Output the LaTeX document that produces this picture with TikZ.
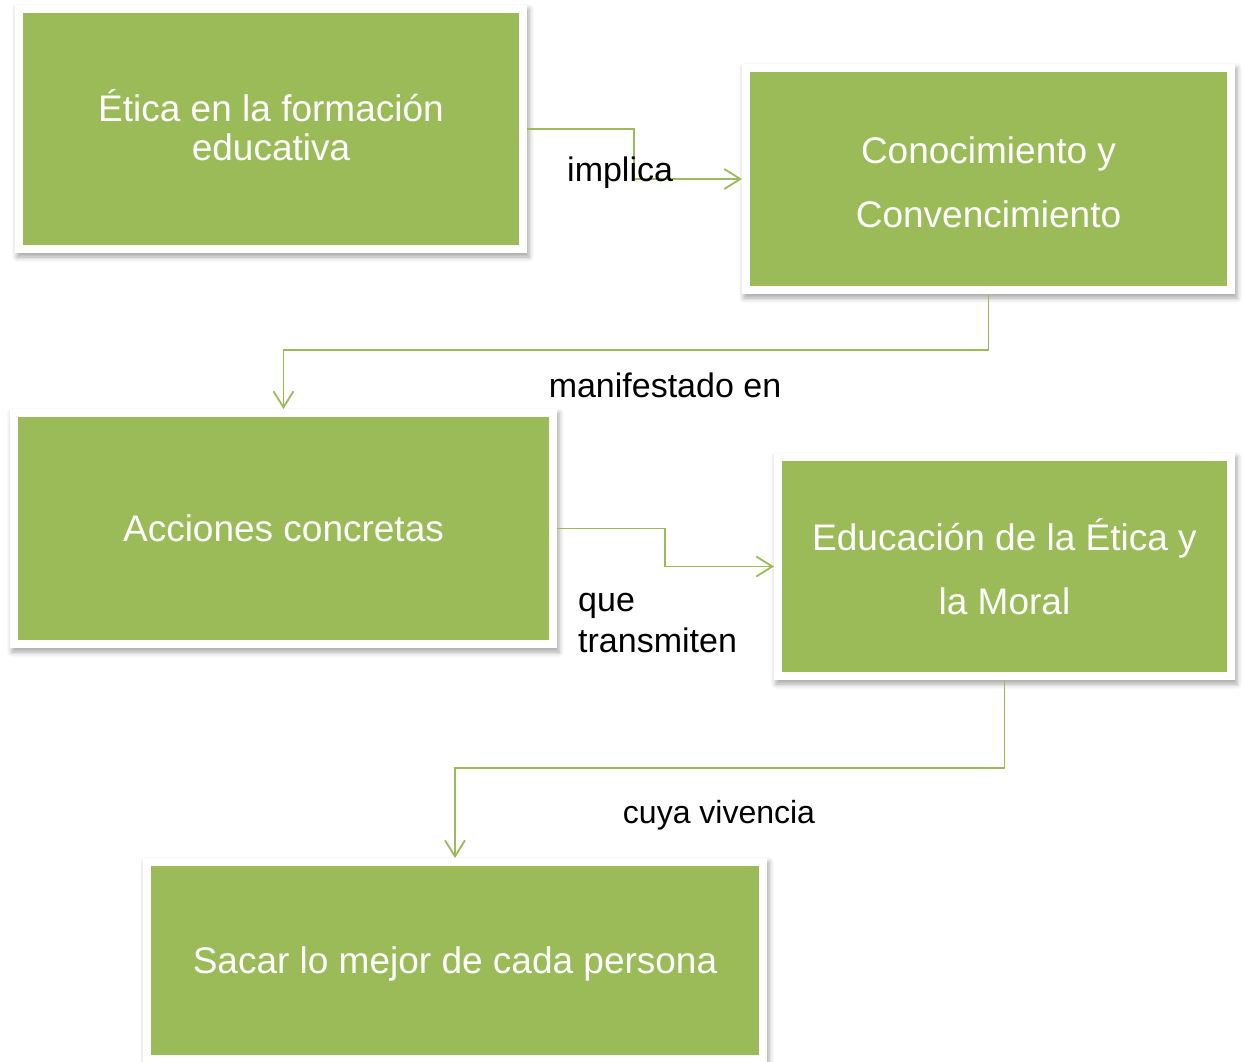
\documentclass[tikz,border=0pt]{standalone}
\usepackage{fontspec}
\setmainfont{Liberation Sans}
\usetikzlibrary{arrows.meta,shadows.blur}
\definecolor{boxgreen}{HTML}{9BBB59}
\begin{document}
\begin{tikzpicture}[x=1pt,y=-1pt,
  gbox/.style={rectangle, fill=white, draw=none, inner sep=0pt, outer sep=0pt,
    text=white, align=center,
    path picture={\fill[boxgreen] ([shift={(8pt,8pt)}]path picture bounding box.south west) rectangle ([shift={(-8pt,-8pt)}]path picture bounding box.north east);},
    blur shadow={shadow xshift=2pt, shadow yshift=-4pt, shadow blur radius=5pt, shadow opacity=35}},
  conn/.style={draw=boxgreen, line width=1.8pt, -{Straight Barb[length=16pt,width=20pt,line width=1.8pt]}},
  lbl/.style={font=\fontsize{34}{41}\selectfont, text=black, inner sep=0pt}
]
\useasboundingbox (0,0) rectangle (1245,1061);
\node[gbox, minimum width=512pt, minimum height=248pt, font=\fontsize{37}{39}\selectfont] (n1) at (271,129) {Ética en la formación\\educativa\rule[-8pt]{0pt}{8pt}};
\node[gbox, minimum width=493pt, minimum height=230pt, font=\fontsize{37}{64}\selectfont] (n2) at (988.5,179) {\rule{0pt}{33pt}Conocimiento y\\Convencimiento};
\node[gbox, minimum width=547pt, minimum height=239pt, font=\fontsize{37}{44}\selectfont] (n3) at (283.5,528.5) {Acciones concretas};
\node[gbox, minimum width=461pt, minimum height=227pt, font=\fontsize{37}{64}\selectfont] (n4) at (1004.5,566.5) {Educación de la Ética y\\la Moral};
\node[gbox, minimum width=624pt, minimum height=205pt, font=\fontsize{37}{44}\selectfont] (n5) at (455,960.5) {\rule{0pt}{33pt}Sacar lo mejor de cada persona};

\draw[conn] (n1.east) -- ++(107,0) |- (n2.west);
\draw[conn] (n2.south) -- ++(0,56) -| (n3.north);
\draw[conn] (n3.east) -- ++(108,0) |- (n4.west);
\draw[conn] (n4.south) -- ++(0,88) -| (n5.north);

\node[lbl, anchor=base west] (l1) at (567,181) {implica};
\node[lbl, anchor=base] (l2) at (665,397) {manifestado en};
\node[lbl, anchor=base west, align=left] (l3) at (578,652) {que\\transmiten};
\node[lbl, anchor=base, font=\fontsize{32}{38}\selectfont] (l4) at (719,823) {cuya vivencia};
\end{tikzpicture}
\end{document}
